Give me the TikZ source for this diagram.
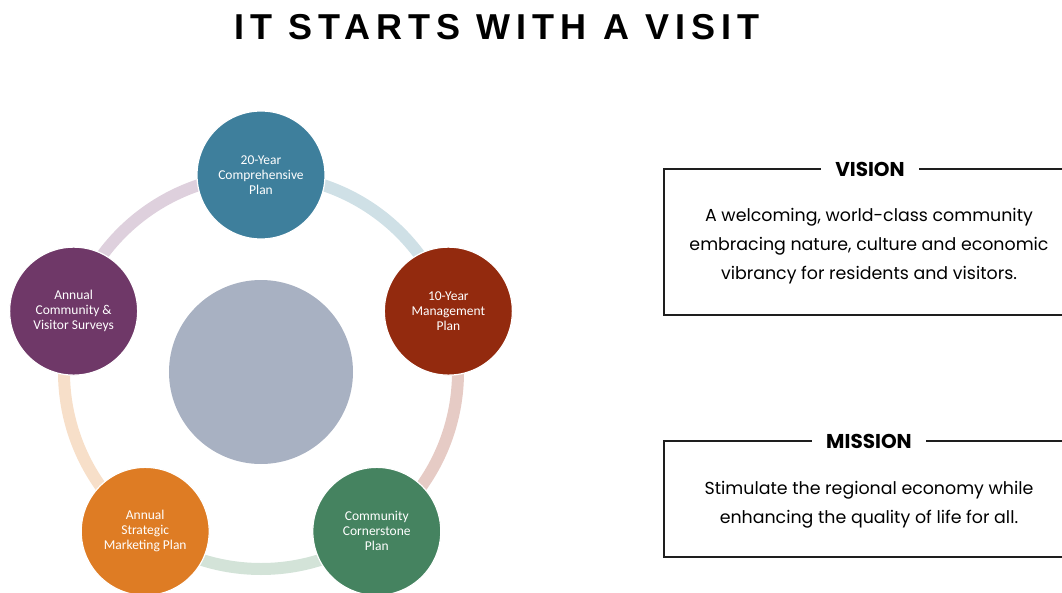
\documentclass[tikz,border=0pt]{standalone}
\usepackage{fontspec}
\setmainfont{Carlito}
\newfontfamily\titlefont[LetterSpace=17]{Liberation Sans}
\newfontfamily\panelfont{Poppins}
\usetikzlibrary{backgrounds}
\definecolor{planteal}{RGB}{62, 127, 156}
\definecolor{planred}{RGB}{147, 42, 14}
\definecolor{plangreen}{RGB}{69, 131, 96}
\definecolor{planorange}{RGB}{222, 124, 36}
\definecolor{planpurple}{RGB}{111, 56, 104}
\definecolor{hubgray}{RGB}{168, 177, 194}
\definecolor{tealtint}{RGB}{207, 224, 230}
\definecolor{redtint}{RGB}{230, 203, 197}
\definecolor{greentint}{RGB}{211, 227, 216}
\definecolor{orangetint}{RGB}{247, 223, 201}
\definecolor{purpletint}{RGB}{222, 208, 221}
\definecolor{panelline}{RGB}{30, 30, 30}

\begin{document}
\begin{tikzpicture}[x=1pt, y=1pt,
  ring/.style={line width=12pt},
  stage/.style={circle, minimum size=128pt, inner sep=0pt, draw=white, line width=1.2pt, text=white, align=center, font=\fontsize{13.5}{15}\selectfont},
  panel/.style={draw=panelline, line width=1.6pt},
  paneltitle/.style={fill=white, inner xsep=14pt, font=\panelfont\bfseries\fontsize{20}{22}\selectfont},
  paneltext/.style={align=center, font=\panelfont\fontsize{17.4}{29}\selectfont}
]
\useasboundingbox (-261, -220) rectangle (801, 372);
\clip (-261, -220) rectangle (801, 372);

% Title
\node[font=\titlefont\bfseries\fontsize{36}{40}\selectfont] (title) at (236, 345) {IT STARTS WITH A VISIT};

% Planning cycle
\node[circle, fill=hubgray, minimum size=184pt] (hub) at (0, 0) {};
\node[stage, fill=planteal] (plan20) at (90:197) {20-Year\\Comprehensive\\Plan};
\node[stage, fill=planred] (plan10) at (18:197) {10-Year\\Management\\Plan};
\node[stage, fill=plangreen] (corner) at (-54:197) {Community\\Cornerstone\\Plan};
\node[stage, fill=planorange] (market) at (-126:197) {Annual\\Strategic\\Marketing Plan};
\node[stage, fill=planpurple] (survey) at (162:197) {Annual\\Community \&\\Visitor Surveys};

% Ring between the stages
\begin{scope}[on background layer]
\draw[ring, draw=tealtint] (plan20.center) arc[start angle=90, end angle=18, radius=197pt];
\draw[ring, draw=redtint] (plan10.center) arc[start angle=18, end angle=-54, radius=197pt];
\draw[ring, draw=greentint] (corner.center) arc[start angle=-54, end angle=-126, radius=197pt];
\draw[ring, draw=orangetint] (market.center) arc[start angle=-126, end angle=-198, radius=197pt];
\draw[ring, draw=purpletint] (survey.center) arc[start angle=162, end angle=90, radius=197pt];
\end{scope}

% Vision panel
\draw[panel] (820, 203) -- (403, 203) -- (403, 57) -- (820, 57);
\node[paneltitle] (vision) at (609, 203) {VISION};
\node[paneltext] (visiontext) at (608, 126) {A welcoming, world-class community\\embracing nature, culture and economic\\vibrancy for residents and visitors.};

% Mission panel
\draw[panel] (820, -69) -- (403, -69) -- (403, -185) -- (820, -185);
\node[paneltitle] (mission) at (608, -69) {MISSION};
\node[paneltext] (missiontext) at (608, -133) {Stimulate the regional economy while\\enhancing the quality of life for all.};

\end{tikzpicture}
\end{document}
